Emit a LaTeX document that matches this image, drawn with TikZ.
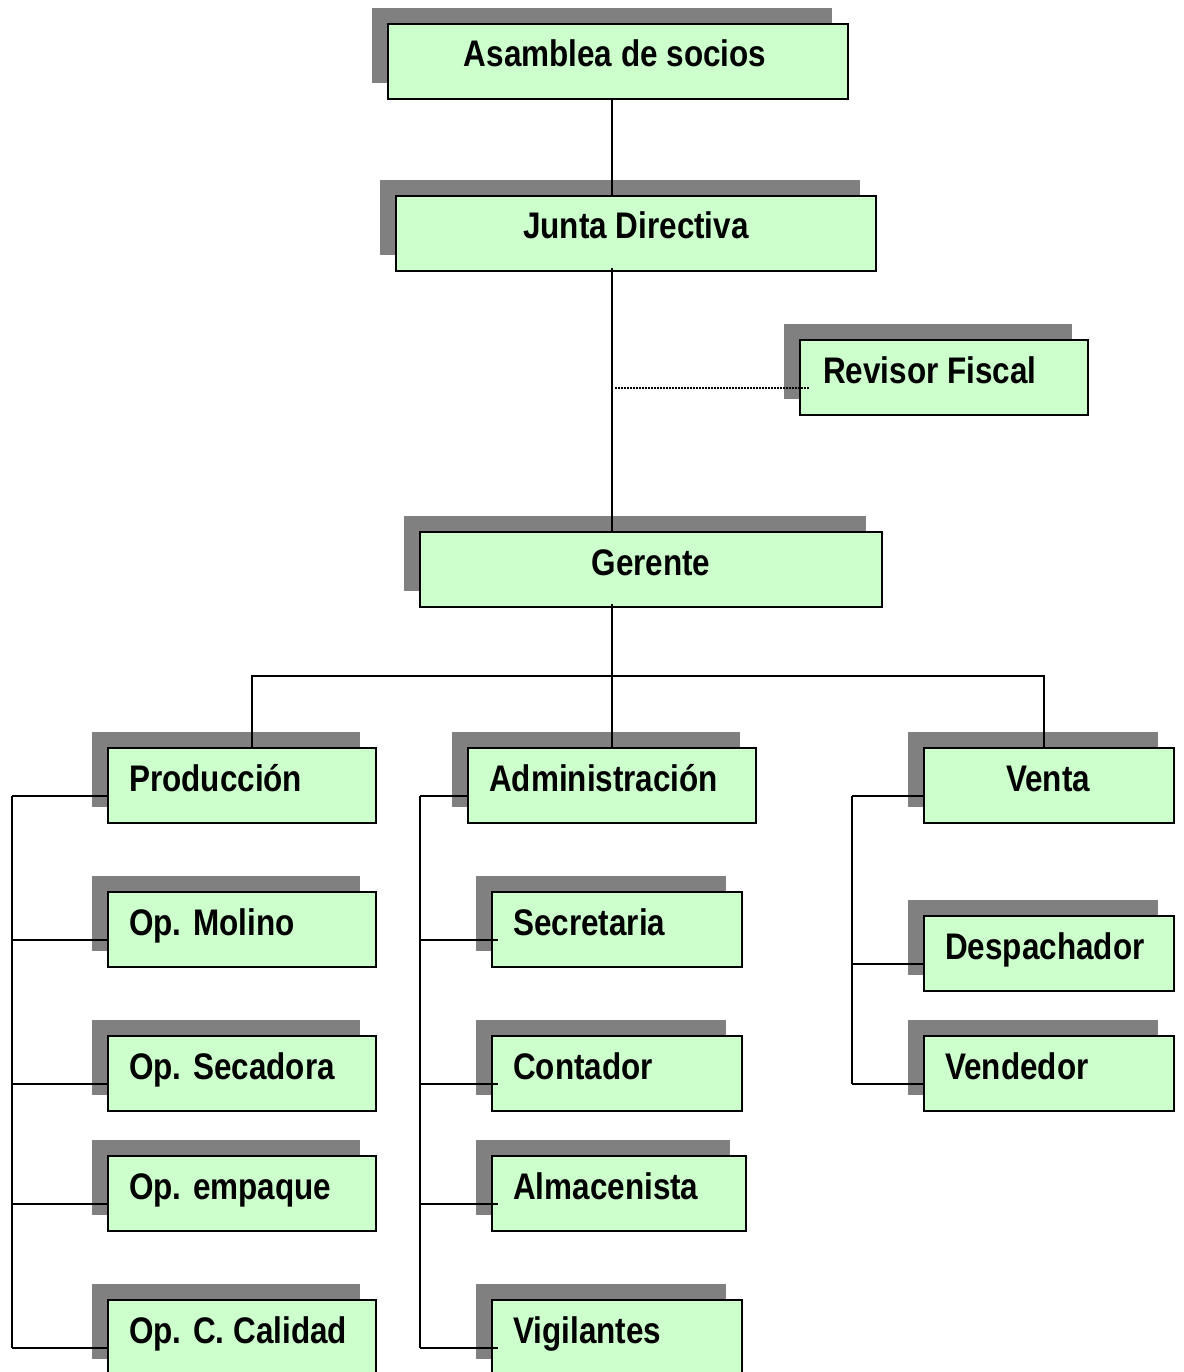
\documentclass[tikz,border=0pt]{standalone}
\usepackage{fontspec}
\setmainfont{Liberation Sans}[FakeStretch=0.85]
\usetikzlibrary{calc}
\definecolor{boxgreen}{HTML}{CCFFCC}
\definecolor{shadowgray}{HTML}{808080}
\newcommand\obox[5]{%
  \fill[boxshade] (#2-16,#3-16) rectangle (#4-16,#5-16);
  \node[box, minimum width=#4pt-#2pt, minimum height=#5pt-#3pt] (#1) at (#2,#3) {};
  \coordinate (#1-c) at (#2,#3+48);
}
\begin{document}
\begin{tikzpicture}[x=1pt,y=-1pt,
  box/.style={draw=black, line width=2pt, fill=boxgreen, inner sep=0pt, outer sep=0pt, anchor=north west},
  boxshade/.style={fill=shadowgray},
  lbl/.style={font=\fontsize{37}{44}\selectfont\bfseries, inner sep=0pt, anchor=base},
  lbll/.style={lbl, anchor=base west},
  conn/.style={line width=2pt},
]
\useasboundingbox (0,0) rectangle (1183,1372);
\fill[white] (0,0) rectangle (1183,1372);

% boxes
\obox{asam}{388}{24}{848}{99}
\obox{junta}{396}{196}{876}{271}
\obox{rev}{800}{340}{1088}{415}
\obox{ger}{420}{532}{882}{607}
\obox{prod}{108}{748}{376}{823}
\obox{adm}{468}{748}{756}{823}
\obox{venta}{924}{748}{1174}{823}
\obox{mol}{108}{892}{376}{967}
\obox{sec}{108}{1036}{376}{1111}
\obox{emp}{108}{1156}{376}{1231}
\obox{cal}{108}{1300}{376}{1375}
\obox{secr}{492}{892}{742}{967}
\obox{cont}{492}{1036}{742}{1111}
\obox{alm}{492}{1156}{746}{1231}
\obox{vig}{492}{1300}{742}{1375}
\obox{desp}{924}{916}{1174}{991}
\obox{vend}{924}{1036}{1174}{1111}

% labels
\node[lbl]  (asam-t)  at (615,67)   {Asamblea de socios};
\node[lbl]  (junta-t) at (636,239)  {Junta Directiva};
\node[lbll] (rev-t)   at (823,383)  {Revisor Fiscal};
\node[lbl]  (ger-t)   at (651,575)  {Gerente};
\node[lbll] (prod-t)  at (129,791)  {Producción};
\node[lbll] (adm-t)   at (489,791)  {Administración};
\node[lbl]  (venta-t) at (1048,791) {Venta};
\node[lbll] (mol-t)   at (129,935)  {Op. Molino};
\node[lbll] (sec-t)   at (129,1079) {Op. Secadora};
\node[lbll] (emp-t)   at (129,1199) {Op. empaque};
\node[lbll] (cal-t)   at (129,1343) {Op. C. Calidad};
\node[lbll] (secr-t)  at (513,935)  {Secretaria};
\node[lbll] (cont-t)  at (513,1079) {Contador};
\node[lbll] (alm-t)   at (513,1199) {Almacenista};
\node[lbll] (vig-t)   at (513,1343) {Vigilantes};
\node[lbll] (desp-t)  at (945,959)  {Despachador};
\node[lbll] (vend-t)  at (945,1079) {Vendedor};

% connectors
\coordinate (trunk) at (612,0);
\coordinate (pdrop) at (252,676);
\coordinate (vdrop) at (1044,676);
\coordinate (pbus) at (12,0);
\coordinate (abus) at (420,0);
\coordinate (vbus) at (852,0);
\coordinate (dotA) at (615,388);
\coordinate (dotB) at (810,388);

\draw[conn] (trunk |- asam.south) -- (trunk |- junta.north);
\draw[conn] ($(trunk |- junta.south)+(0,-3)$) -- (trunk |- ger.north);
\draw[line width=1.5pt, dash pattern=on 1.5pt off 1.5pt] (dotA) -- (dotB);
\draw[conn] ($(trunk |- ger.south)+(0,-3)$) -- (trunk |- adm.north);
\draw[conn] (pdrop |- prod.north) -- (pdrop) -- (vdrop) -- (vdrop |- venta.north);

\draw[conn] (pbus |- prod-c) -- (pbus |- cal-c);
\foreach \n in {prod,mol,sec,emp,cal} \draw[conn] (pbus |- \n-c) -- (\n-c);

\draw[conn] (abus |- adm-c) -- (abus |- vig-c);
\draw[conn] (abus |- adm-c) -- (adm-c);
\foreach \n in {secr,cont,alm,vig} \draw[conn] (abus |- \n-c) -- ([xshift=6pt]\n-c);

\draw[conn] (vbus |- venta-c) -- (vbus |- vend-c);
\foreach \n in {venta,desp,vend} \draw[conn] (vbus |- \n-c) -- (\n-c);
\end{tikzpicture}
\end{document}
